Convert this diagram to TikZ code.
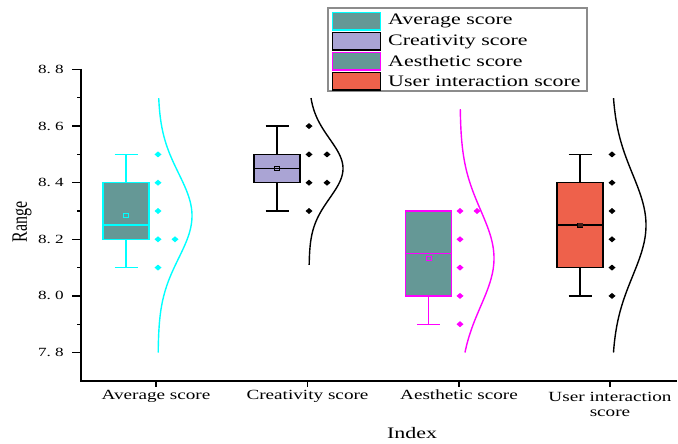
\documentclass[tikz,border=0pt]{standalone}
\usepackage{fontspec}
\setmainfont{Liberation Serif}
\usepackage{graphicx}

\definecolor{tealfill}{HTML}{659896}
\definecolor{lavfill}{HTML}{AAA4D4}
\definecolor{redfill}{HTML}{EE614B}
\definecolor{legframe}{HTML}{8C8C8C}
\definecolor{aqua}{RGB}{0,255,255}
\definecolor{fuchsia}{RGB}{255,0,255}

% text is set wide, as in the original chart export
\newcommand{\widetxt}[1]{\scalebox{1.37}[1]{#1}}

% box plot: centre x, q1, q3, median, mean, whisker low, whisker high, line colour, fill colour
\newcommand{\boxplot}[9]{%
  \draw[boxline, #8] (#1,{Y(#2)}) -- (#1,{Y(#6)}) (#1-11.5,{Y(#6)}) -- (#1+11.5,{Y(#6)});
  \draw[boxline, #8] (#1,{Y(#3)}) -- (#1,{Y(#7)}) (#1-11.5,{Y(#7)}) -- (#1+11.5,{Y(#7)});
  \filldraw[boxline, draw=#8, fill=#9] (#1-23,{Y(#3)}) rectangle (#1+23,{Y(#2)});
  \draw[boxline, #8] (#1-23,{Y(#4)}) -- (#1+23,{Y(#4)});
  \draw[line width=1, #8] (#1-2.5,{Y(#5)-2}) rectangle (#1+2.5,{Y(#5)+2});
}
% one data point as a small diamond
\newcommand{\dmark}[3]{%
  \fill[#3] (#1-3.5,{Y(#2)}) -- (#1,{Y(#2)-3}) -- (#1+3.5,{Y(#2)}) -- (#1,{Y(#2)+3}) -- cycle;
}
% half-violin density curve: base x, mean, spread, from, to, colour
\newcommand{\density}[6]{%
  \draw[curve, #6] plot[domain=#4:#5, samples=100, smooth, variable=\t]
    ({#1+34*exp(-0.5*((\t-#2)/#3)*((\t-#2)/#3))}, {Y(\t)});
}

\begin{document}
\begin{tikzpicture}[x=1pt, y=-1pt,
  declare function={Y(\u)=69.5+(8.8-\u)*283;},
  axisline/.style={line width=1.2, black},
  boxline/.style={line width=1.4},
  curve/.style={line width=1.4},
  ticklbl/.style={font=\fontsize{12.5}{14}\selectfont, anchor=east, inner sep=0},
  catlbl/.style={font=\fontsize{14}{16}\selectfont, anchor=north, inner sep=0},
  legtext/.style={font=\fontsize{16}{18}\selectfont, anchor=west, inner sep=0},
  swatch/.style={line width=1.8}]
\useasboundingbox (0,0) rectangle (678,444);

% axes
\draw[axisline] (81,69) -- (81,381) -- (677,381);
\foreach \v/\lbl [count=\i] in {7.8/7.\ 8, 8.0/8.\ 0, 8.2/8.\ 2, 8.4/8.\ 4, 8.6/8.\ 6, 8.8/8.\ 8} {
  \draw[axisline] (81,{Y(\v)}) -- (72,{Y(\v)});
  \node[ticklbl] (ylab\i) at (64,{Y(\v)}) {\widetxt{\lbl}};
}
\foreach \v in {7.9, 8.1, 8.3, 8.5, 8.7} {
  \draw[axisline] (81,{Y(\v)}) -- (77,{Y(\v)});
}
\foreach \x in {156, 307.5, 459, 610} {
  \draw[axisline] (\x,381) -- (\x,387);
}

\node[catlbl] (c1) at (156,390) {\widetxt{Average score}};
\node[catlbl] (c2) at (307.5,390) {\widetxt{Creativity score}};
\node[catlbl] (c3) at (459,390) {\widetxt{Aesthetic score}};
\node[catlbl] (c4) at (610,390) {\widetxt{\begin{tabular}{@{}c@{}}User interaction\\[-1pt] score\end{tabular}}};
\node[font=\fontsize{16}{18}\selectfont, inner sep=0] (xtitle) at (412,433) {\widetxt{Index}};
\node[font=\fontsize{16}{18}\selectfont, inner sep=0] (ytitle) at (22,222) {\scalebox{1.37}[1]{\rotatebox{90}{Range}}};

% Average score
\boxplot{126}{8.2}{8.4}{8.25}{8.283}{8.1}{8.5}{aqua}{tealfill}
\foreach \v in {8.5, 8.4, 8.3, 8.2, 8.1} {\dmark{158}{\v}{aqua}}
\dmark{175}{8.2}{aqua}
\density{158}{8.283}{0.15}{7.8}{8.7}{aqua}

% Creativity score
\boxplot{277}{8.4}{8.5}{8.45}{8.45}{8.3}{8.6}{black}{lavfill}
\foreach \v in {8.6, 8.5, 8.4, 8.3} {\dmark{309}{\v}{black}}
\dmark{327}{8.5}{black}
\dmark{327}{8.4}{black}
\density{309}{8.45}{0.105}{8.11}{8.7}{black}

% Aesthetic score
\boxplot{428.5}{8.0}{8.3}{8.15}{8.133}{7.9}{8.3}{fuchsia}{tealfill}
\foreach \v in {8.3, 8.2, 8.1, 8.0, 7.9} {\dmark{460}{\v}{fuchsia}}
\dmark{477}{8.3}{fuchsia}
\density{460}{8.133}{0.17}{7.8}{8.66}{fuchsia}

% User interaction score
\boxplot{580}{8.1}{8.4}{8.25}{8.25}{8.0}{8.5}{black}{redfill}
\fill[black!70!redfill] (580-2.5,{Y(8.25)-2}) rectangle (580+2.5,{Y(8.25)+2});
\foreach \v in {8.5, 8.4, 8.3, 8.2, 8.1, 8.0} {\dmark{612}{\v}{black}}
\density{612}{8.25}{0.18}{7.8}{8.7}{black}

% legend
\draw[legframe, line width=1.5] (328,8) rectangle (587,91);
\filldraw[swatch, draw=aqua, fill=tealfill] (332.5,12.5) rectangle (380.5,30);
\filldraw[swatch, draw=black, fill=lavfill] (332.5,32.5) rectangle (380.5,50);
\filldraw[swatch, draw=fuchsia, fill=tealfill] (332.5,52.5) rectangle (380.5,70);
\filldraw[swatch, draw=black, fill=redfill] (332.5,72.5) rectangle (380.5,90);
\node[legtext] (l1) at (388,21) {\widetxt{Average score}};
\node[legtext] (l2) at (388,41.5) {\widetxt{Creativity score}};
\node[legtext] (l3) at (388,61) {\widetxt{Aesthetic score}};
\node[legtext] (l4) at (388,81) {\widetxt{User interaction score}};
\end{tikzpicture}
\end{document}
